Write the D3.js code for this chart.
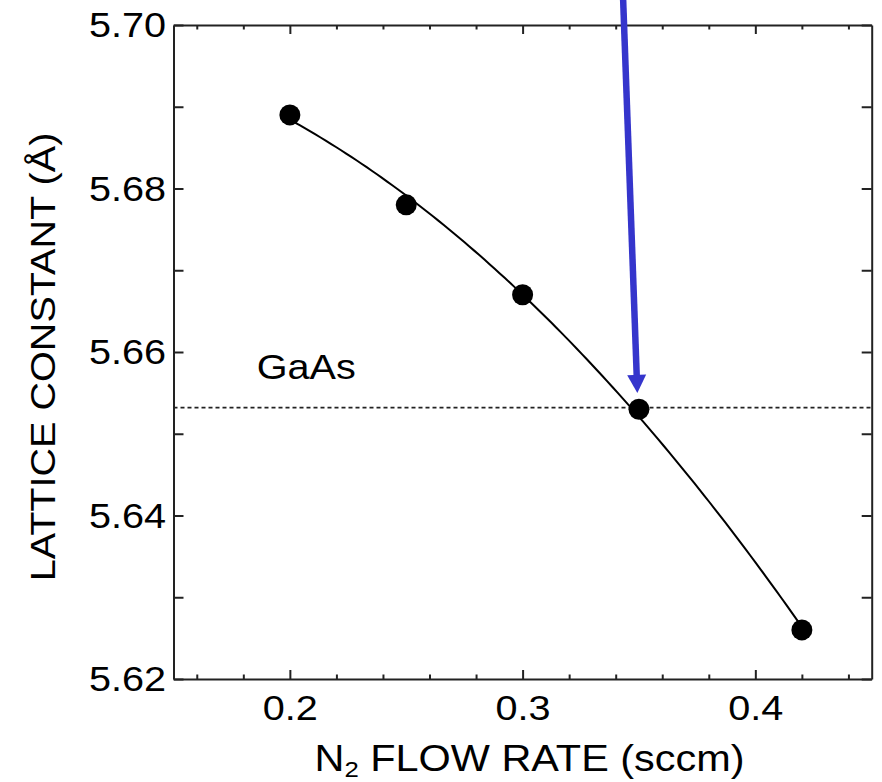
<!DOCTYPE html>
<html>
<head>
<meta charset="utf-8">
<script src="https://cdn.jsdelivr.net/npm/d3@7"></script>
<style>
  html, body { margin: 0; padding: 0; background: #fff; }
  svg { display: block; }
  text { font-family: "Liberation Sans", Arial, Helvetica, sans-serif; fill: #000; }
</style>
</head>
<body>
<svg id="chart" width="882" height="782"></svg>
<script>
// ---- data ----
const flowRates = [0.2, 0.25, 0.3, 0.35, 0.42];
const latticeConstants = [5.689, 5.678, 5.667, 5.653, 5.626];
const gaasLattice = 5.6532;
const xMajorTicks = [0.2, 0.3, 0.4];
const xMinorTicks = [0.16, 0.18, 0.22, 0.24, 0.26, 0.28, 0.32, 0.34, 0.36, 0.38, 0.42, 0.44];
const yMajorTicks = [5.62, 5.64, 5.66, 5.68, 5.70];
const yMinorTicks = [5.63, 5.65, 5.67, 5.69];
const arrowFrom = [0.3432, 5.7031];
const arrowTo = [0.3493, 5.6550];
const gaasLabelPos = [0.1858, 5.6567];

(function () {
const svg = d3.select("#chart");
const pLeft = 173.5, pRight = 871.7, pTop = 25, pBottom = 679;
const x = d3.scaleLinear().domain([0.15, 0.45]).range([pLeft, pRight]);
const y = d3.scaleLinear().domain([5.62, 5.70]).range([pBottom, pTop]);
const SX = 1.1;
const axisColor = "#222";

function styleAxis(g) {
  g.selectAll("path.domain").attr("stroke", axisColor).attr("stroke-width", 2);
  g.selectAll(".tick line").attr("stroke", axisColor).attr("stroke-width", 2);
}

// bottom axis
const gB = svg.append("g").attr("transform", `translate(0,${pBottom})`)
  .call(d3.axisBottom(x).tickValues(xMajorTicks).tickSizeInner(-9).tickSizeOuter(0)
        .tickPadding(15.4).tickFormat(d3.format(".1f")));
gB.selectAll(".tick text").attr("font-size", 36).attr("font-family", "Liberation Sans, Arial, sans-serif")
  .attr("fill", "#000").attr("transform", `scale(${SX},1)`);
styleAxis(gB);
const gBm = svg.append("g").attr("transform", `translate(0,${pBottom})`)
  .call(d3.axisBottom(x).tickValues(xMinorTicks).tickSizeInner(-4.5).tickSizeOuter(0).tickFormat(""));
styleAxis(gBm); gBm.select("path.domain").remove();

// top axis
const gT = svg.append("g").attr("transform", `translate(0,${pTop})`)
  .call(d3.axisTop(x).tickValues(xMajorTicks).tickSizeInner(-9).tickSizeOuter(0).tickFormat(""));
styleAxis(gT);
const gTm = svg.append("g").attr("transform", `translate(0,${pTop})`)
  .call(d3.axisTop(x).tickValues(xMinorTicks).tickSizeInner(-4.5).tickSizeOuter(0).tickFormat(""));
styleAxis(gTm); gTm.select("path.domain").remove();

// left axis
const gL = svg.append("g").attr("transform", `translate(${pLeft},0)`)
  .call(d3.axisLeft(y).tickValues(yMajorTicks).tickSizeInner(-10).tickSizeOuter(0)
        .tickPadding(7.5).tickFormat(d3.format(".2f")));
gL.selectAll(".tick text").attr("font-size", 36).attr("font-family", "Liberation Sans, Arial, sans-serif")
  .attr("fill", "#000").attr("x", -7.5 / SX).attr("transform", `scale(${SX},1)`);
styleAxis(gL);
const gLm = svg.append("g").attr("transform", `translate(${pLeft},0)`)
  .call(d3.axisLeft(y).tickValues(yMinorTicks).tickSizeInner(-10).tickSizeOuter(0).tickFormat(""));
styleAxis(gLm); gLm.select("path.domain").remove();

// right axis
const gR = svg.append("g").attr("transform", `translate(${pRight},0)`)
  .call(d3.axisRight(y).tickValues(yMajorTicks.concat(yMinorTicks)).tickSizeInner(-10).tickSizeOuter(0).tickFormat(""));
styleAxis(gR);

// GaAs dashed reference line
svg.append("line")
  .attr("x1", x(0.15)).attr("x2", x(0.45))
  .attr("y1", y(gaasLattice)).attr("y2", y(gaasLattice))
  .attr("stroke", "#222").attr("stroke-width", 1.6).attr("stroke-dasharray", "4,3");

// least-squares quadratic fit of the measured points
const pts = flowRates.map((f, i) => [f, latticeConstants[i]]);
function quadFit(xs, ys) {
  let S = [0, 0, 0, 0, 0], T = [0, 0, 0];
  xs.forEach((xv, i) => {
    for (let k = 0; k < 5; k++) S[k] += Math.pow(xv, k);
    for (let k = 0; k < 3; k++) T[k] += ys[i] * Math.pow(xv, k);
  });
  const M = [[S[0], S[1], S[2], T[0]], [S[1], S[2], S[3], T[1]], [S[2], S[3], S[4], T[2]]];
  for (let i = 0; i < 3; i++) {
    for (let j = i + 1; j < 3; j++) {
      const f = M[j][i] / M[i][i];
      for (let k = i; k < 4; k++) M[j][k] -= f * M[i][k];
    }
  }
  const c = [0, 0, 0];
  for (let i = 2; i >= 0; i--) {
    let s = M[i][3];
    for (let k = i + 1; k < 3; k++) s -= M[i][k] * c[k];
    c[i] = s / M[i][i];
  }
  return xv => c[0] + c[1] * xv + c[2] * xv * xv;
}
const fit = quadFit(flowRates, latticeConstants);
const xMin = d3.min(flowRates), xMax = d3.max(flowRates);
const fitPts = d3.range(0, 101).map(i => {
  const xv = xMin + (xMax - xMin) * i / 100;
  return [xv, fit(xv)];
});
svg.append("path")
  .datum(fitPts)
  .attr("fill", "none").attr("stroke", "#000").attr("stroke-width", 2)
  .attr("d", d3.line().x(d => x(d[0])).y(d => y(d[1])));

// points
svg.append("g").selectAll("circle").data(pts).join("circle")
  .attr("cx", d => x(d[0])).attr("cy", d => y(d[1])).attr("r", 10.5).attr("fill", "#000");

// GaAs label
svg.append("text")
  .attr("transform", `translate(${x(gaasLabelPos[0])},${y(gaasLabelPos[1])}) scale(${SX},1)`)
  .attr("font-size", 36).text("GaAs");

// axis titles
const xt = svg.append("text")
  .attr("transform", `translate(529.5,771) scale(1.12,1)`)
  .attr("text-anchor", "middle").attr("font-size", 37);
xt.append("tspan").text("N");
xt.append("tspan").attr("font-size", 23).attr("dy", 5.5).text("2");
xt.append("tspan").attr("dy", -5.5).text(" FLOW RATE (sccm)");

svg.append("text")
  .attr("transform", `translate(55,357) rotate(-90) scale(${SX},1)`)
  .attr("text-anchor", "middle").attr("font-size", 36)
  .text("LATTICE CONSTANT (Å)");

// blue arrow
const ax0 = x(arrowFrom[0]), ay0 = y(arrowFrom[1]);
const ax1 = x(arrowTo[0]), ay1 = y(arrowTo[1]);
const dx = ax1 - ax0, dy = ay1 - ay0, len = Math.hypot(dx, dy);
const ux = dx / len, uy = dy / len, px = -uy, py = ux;
const headLen = 18, headHalf = 9.5;
const bx = ax1 - ux * headLen, by = ay1 - uy * headLen;
const arrowColor = "#3535cc";
svg.append("line")
  .attr("x1", ax0).attr("y1", ay0).attr("x2", bx + ux * 2).attr("y2", by + uy * 2)
  .attr("stroke", arrowColor).attr("stroke-width", 6.5);
svg.append("path")
  .attr("d", `M${ax1},${ay1} L${bx + px * headHalf},${by + py * headHalf} L${bx - px * headHalf},${by - py * headHalf} Z`)
  .attr("fill", arrowColor);
})();
</script>
</body>
</html>
